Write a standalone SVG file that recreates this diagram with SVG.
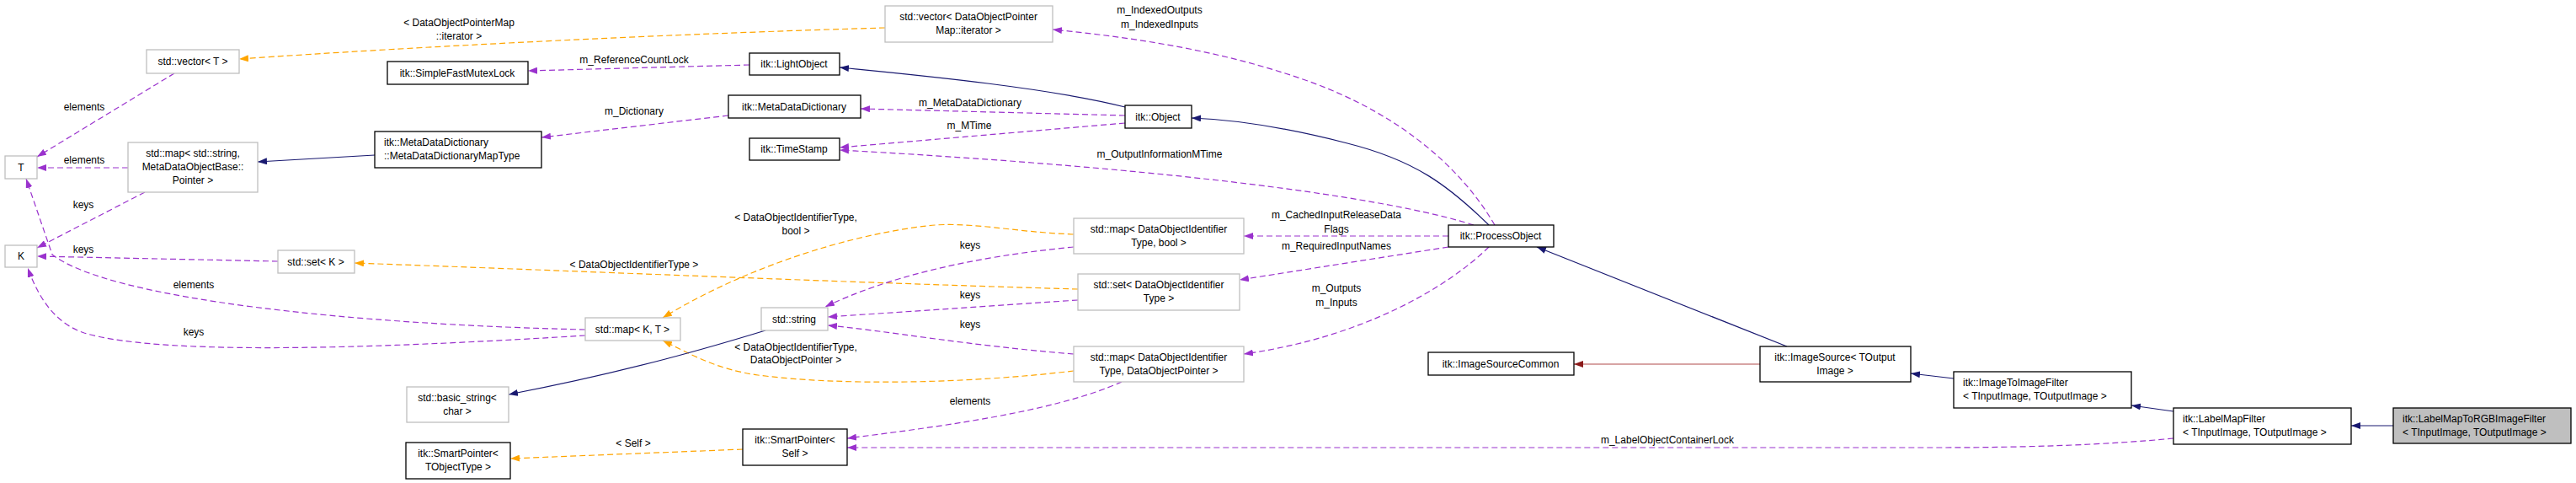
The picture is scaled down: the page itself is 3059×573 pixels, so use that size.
<svg xmlns="http://www.w3.org/2000/svg" width="3059" height="573" viewBox="0 0 3059 573">
<style>
text{font-family:"Liberation Sans","DejaVu Sans",sans-serif;font-size:12px;fill:#000}
.c{text-anchor:middle}
.n rect{fill:#fff;stroke:#000;stroke-width:1.3}
.g rect{fill:#fff;stroke:#bfbfbf;stroke-width:1.3}
.e path{fill:none;stroke-width:1.2}
.p{stroke:#9a32cd;stroke-dasharray:7,4}
.o{stroke:#ffa500;stroke-dasharray:7,4}
.b{stroke:#191970}
.r{stroke:#b04a4a}
</style>
<defs>
<marker id="mp" markerWidth="12" markerHeight="8" refX="11" refY="4" orient="auto" markerUnits="userSpaceOnUse"><path d="M0,0L11,4L0,8z" fill="#9a32cd"/></marker>
<marker id="mo" markerWidth="12" markerHeight="8" refX="11" refY="4" orient="auto" markerUnits="userSpaceOnUse"><path d="M0,0L11,4L0,8z" fill="#ffa500"/></marker>
<marker id="mb" markerWidth="12" markerHeight="8" refX="11" refY="4" orient="auto" markerUnits="userSpaceOnUse"><path d="M0,0L11,4L0,8z" fill="#191970"/></marker>
<marker id="mr" markerWidth="12" markerHeight="8" refX="11" refY="4" orient="auto" markerUnits="userSpaceOnUse"><path d="M0,0L11,4L0,8z" fill="#8b1a1a"/></marker>
</defs>
<rect width="3059" height="573" fill="#fff"/>
<g id="edges" class="e">
<path class="o" marker-end="url(#mo)" d="M1051,33C800,40 500,55 284,70"/>
<path class="p" marker-end="url(#mp)" d="M890,77L627,84"/>
<path class="p" marker-end="url(#mp)" d="M865,137L643,163"/>
<path class="b" marker-end="url(#mb)" d="M445,184L306,192"/>
<path class="p" marker-end="url(#mp)" d="M152,199L44,199"/>
<path class="p" marker-end="url(#mp)" d="M207,87L44,186"/>
<path class="p" marker-end="url(#mp)" d="M172,228L44,294"/>
<path class="p" marker-end="url(#mp)" d="M330,310L44,304"/>
<path class="p" marker-end="url(#mp)" d="M695,391C420,385 130,355 62,302L31,212"/>
<path class="p" marker-end="url(#mp)" d="M695,398C500,410 200,425 100,395C70,385 48,360 33,318"/>
<path class="o" marker-end="url(#mo)" d="M1280,343C1000,335 700,322 421,312"/>
<path class="o" marker-end="url(#mo)" d="M1275,278C1200,275 1150,262 1100,268C1000,280 880,320 787,377"/>
<path class="o" marker-end="url(#mo)" d="M1275,440C1150,455 1000,458 900,445C850,438 820,420 787,404"/>
<path class="p" marker-end="url(#mp)" d="M1275,293C1150,305 1050,330 980,364"/>
<path class="p" marker-end="url(#mp)" d="M1280,356L983,376"/>
<path class="p" marker-end="url(#mp)" d="M1275,420C1150,410 1050,392 983,386"/>
<path class="p" marker-end="url(#mp)" d="M1332,453C1250,490 1100,508 1006,520"/>
<path class="b" marker-end="url(#mb)" d="M909,392C850,410 750,440 604,468"/>
<path class="o" marker-end="url(#mo)" d="M882,533L606,544"/>
<path class="b" marker-end="url(#mb)" d="M1336,127C1250,105 1100,90 997,80"/>
<path class="p" marker-end="url(#mp)" d="M1336,137L1022,129"/>
<path class="p" marker-end="url(#mp)" d="M1336,146L997,175"/>
<path class="p" marker-end="url(#mp)" d="M1750,267C1650,235 1400,200 997,178"/>
<path class="b" marker-end="url(#mb)" d="M1768,267C1720,220 1680,190 1600,170C1530,152 1470,142 1415,140"/>
<path class="p" marker-end="url(#mp)" d="M1775,267C1730,190 1650,130 1550,95C1450,60 1350,45 1250,35"/>
<path class="p" marker-end="url(#mp)" d="M1720,280L1477,280"/>
<path class="p" marker-end="url(#mp)" d="M1720,293L1472,332"/>
<path class="p" marker-end="url(#mp)" d="M1768,293C1720,340 1620,400 1477,420"/>
<path class="b" marker-end="url(#mb)" d="M2122,411L1825,293"/>
<path class="r" marker-end="url(#mr)" d="M2090,432L1869,432"/>
<path class="b" marker-end="url(#mb)" d="M2320,449L2269,443"/>
<path class="b" marker-end="url(#mb)" d="M2581,488L2531,481"/>
<path class="b" marker-end="url(#mb)" d="M2842,505L2792,505"/>
<path class="p" marker-end="url(#mp)" d="M2581,520C2500,528 2400,531 2300,531L1006,531"/>
</g>
<g id="labels" class="c">
<text x="545" y="31" class="c">&lt; DataObjectPointerMap</text>
<text x="545" y="47" class="c">::iterator &gt;</text>
<text x="753" y="75" class="c">m_ReferenceCountLock</text>
<text x="753" y="136" class="c">m_Dictionary</text>
<text x="100" y="131" class="c">elements</text>
<text x="100" y="194" class="c">elements</text>
<text x="99" y="247" class="c">keys</text>
<text x="99" y="300" class="c">keys</text>
<text x="230" y="342" class="c">elements</text>
<text x="230" y="398" class="c">keys</text>
<text x="753" y="318" class="c">&lt; DataObjectIdentifierType &gt;</text>
<text x="752" y="530" class="c">&lt; Self &gt;</text>
<text x="1152" y="126" class="c">m_MetaDataDictionary</text>
<text x="1151" y="153" class="c">m_MTime</text>
<text x="1377" y="187" class="c">m_OutputInformationMTime</text>
<text x="1377" y="16" class="c">m_IndexedOutputs</text>
<text x="1377" y="33" class="c">m_IndexedInputs</text>
<text x="945" y="262" class="c">&lt; DataObjectIdentifierType,</text>
<text x="945" y="278" class="c">bool &gt;</text>
<text x="1152" y="295" class="c">keys</text>
<text x="1152" y="354" class="c">keys</text>
<text x="1152" y="389" class="c">keys</text>
<text x="945" y="416" class="c">&lt; DataObjectIdentifierType,</text>
<text x="945" y="431" class="c">DataObjectPointer &gt;</text>
<text x="1152" y="480" class="c">elements</text>
<text x="1587" y="259" class="c">m_CachedInputReleaseData</text>
<text x="1587" y="276" class="c">Flags</text>
<text x="1587" y="296" class="c">m_RequiredInputNames</text>
<text x="1587" y="346" class="c">m_Outputs</text>
<text x="1587" y="363" class="c">m_Inputs</text>
<text x="1980" y="526" class="c">m_LabelObjectContainerLock</text>
</g>
<g id="T" class="g"><rect x="6" y="185" width="38" height="27"/><text x="25" y="203" class="c">T</text></g>
<g id="K" class="g"><rect x="6" y="291" width="38" height="26"/><text x="25" y="308" class="c">K</text></g>
<g id="vectorT" class="g"><rect x="174" y="59" width="110" height="28"/><text x="229" y="77" class="c">std::vector&lt; T &gt;</text></g>
<g id="mapString" class="g"><rect x="152" y="169" width="154" height="59"/><text x="229" y="186" class="c">std::map&lt; std::string,</text><text x="229" y="202" class="c">MetaDataObjectBase::</text><text x="229" y="218" class="c">Pointer &gt;</text></g>
<g id="setK" class="g"><rect x="330" y="297" width="91" height="27"/><text x="375" y="315" class="c">std::set&lt; K &gt;</text></g>
<g id="mutex" class="n"><rect x="460" y="73" width="167" height="27"/><text x="543" y="91" class="c">itk::SimpleFastMutexLock</text></g>
<g id="mapType" class="n"><rect x="445" y="156" width="198" height="43"/><text x="456" y="173">itk::MetaDataDictionary</text><text x="456" y="189">::MetaDataDictionaryMapType</text></g>
<g id="mapKT" class="g"><rect x="695" y="377" width="113" height="27"/><text x="751" y="395" class="c">std::map&lt; K, T &gt;</text></g>
<g id="basicString" class="g"><rect x="483" y="459" width="121" height="42"/><text x="543" y="476" class="c">std::basic_string&lt;</text><text x="543" y="492" class="c">char &gt;</text></g>
<g id="spT" class="n"><rect x="482" y="525" width="124" height="43"/><text x="544" y="542" class="c">itk::SmartPointer&lt;</text><text x="544" y="558" class="c">TObjectType &gt;</text></g>
<g id="vecDOPM" class="g"><rect x="1051" y="7" width="199" height="43"/><text x="1150" y="24" class="c">std::vector&lt; DataObjectPointer</text><text x="1150" y="40" class="c">Map::iterator &gt;</text></g>
<g id="lightObject" class="n"><rect x="890" y="63" width="107" height="26"/><text x="943" y="80" class="c">itk::LightObject</text></g>
<g id="mdd" class="n"><rect x="865" y="113" width="157" height="27"/><text x="943" y="131" class="c">itk::MetaDataDictionary</text></g>
<g id="timeStamp" class="n"><rect x="890" y="164" width="107" height="26"/><text x="943" y="181" class="c">itk::TimeStamp</text></g>
<g id="string" class="g"><rect x="904" y="365" width="79" height="27"/><text x="943" y="383" class="c">std::string</text></g>
<g id="spSelf" class="n"><rect x="882" y="509" width="124" height="43"/><text x="944" y="526" class="c">itk::SmartPointer&lt;</text><text x="944" y="542" class="c">Self &gt;</text></g>
<g id="mapBool" class="g"><rect x="1275" y="259" width="202" height="42"/><text x="1376" y="276" class="c">std::map&lt; DataObjectIdentifier</text><text x="1376" y="292" class="c">Type, bool &gt;</text></g>
<g id="setDOI" class="g"><rect x="1280" y="325" width="192" height="43"/><text x="1376" y="342" class="c">std::set&lt; DataObjectIdentifier</text><text x="1376" y="358" class="c">Type &gt;</text></g>
<g id="mapDOP" class="g"><rect x="1275" y="411" width="202" height="42"/><text x="1376" y="428" class="c">std::map&lt; DataObjectIdentifier</text><text x="1376" y="444" class="c">Type, DataObjectPointer &gt;</text></g>
<g id="object" class="n"><rect x="1336" y="125" width="79" height="27"/><text x="1375" y="143" class="c">itk::Object</text></g>
<g id="processObject" class="n"><rect x="1720" y="267" width="125" height="26"/><text x="1782" y="284" class="c">itk::ProcessObject</text></g>
<g id="imageSourceCommon" class="n"><rect x="1696" y="418" width="173" height="27"/><text x="1782" y="436" class="c">itk::ImageSourceCommon</text></g>
<g id="imageSource" class="n"><rect x="2090" y="411" width="179" height="42"/><text x="2179" y="428" class="c">itk::ImageSource&lt; TOutput</text><text x="2179" y="444" class="c">Image &gt;</text></g>
<g id="i2i" class="n"><rect x="2320" y="441" width="211" height="43"/><text x="2331" y="458">itk::ImageToImageFilter</text><text x="2331" y="474">&lt; TInputImage, TOutputImage &gt;</text></g>
<g id="labelMapFilter" class="n"><rect x="2581" y="484" width="211" height="43"/><text x="2592" y="501">itk::LabelMapFilter</text><text x="2592" y="517">&lt; TInputImage, TOutputImage &gt;</text></g>
<g id="labelMapToRGB" class="n"><rect x="2842" y="484" width="211" height="42" style="fill:#bfbfbf"/><text x="2853" y="501">itk::LabelMapToRGBImageFilter</text><text x="2853" y="517">&lt; TInputImage, TOutputImage &gt;</text></g>
</svg>
